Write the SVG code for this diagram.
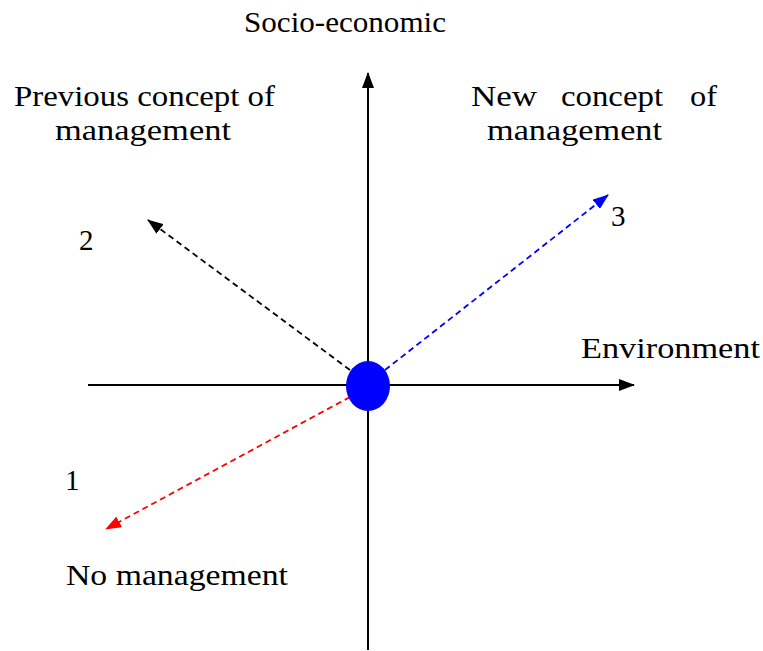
<svg xmlns="http://www.w3.org/2000/svg" width="763" height="651" viewBox="0 0 763 651">
<style>
text{font-family:"Liberation Serif","DejaVu Serif",serif;font-size:29px;fill:#000}
.ax{stroke:#000;stroke-width:2;fill:none}
.d{stroke-width:1.8;stroke-dasharray:6,4;fill:none}
</style>
<defs>
<marker id="ak" markerWidth="16" markerHeight="12" refX="15" refY="6" orient="auto" markerUnits="userSpaceOnUse"><path d="M0,0L16,6L0,12z" fill="#000"/></marker>
<marker id="ab" markerWidth="16" markerHeight="12" refX="15" refY="6" orient="auto" markerUnits="userSpaceOnUse"><path d="M0,0L16,6L0,12z" fill="#0000ff"/></marker>
<marker id="ar" markerWidth="16" markerHeight="12" refX="15" refY="6" orient="auto" markerUnits="userSpaceOnUse"><path d="M0,0L16,6L0,12z" fill="#ff0000"/></marker>
</defs>
<g id="connectors">
<line class="ax" x1="368" y1="650" x2="368" y2="73" marker-end="url(#ak)"/>
<line class="ax" x1="88" y1="385" x2="634" y2="385" marker-end="url(#ak)"/>
<line class="d" stroke="#000" x1="350" y1="370" x2="148" y2="220" marker-end="url(#ak)"/>
<line class="d" stroke="#0000ff" x1="385" y1="370" x2="608" y2="195" marker-end="url(#ab)"/>
<line class="d" stroke="#ff0000" x1="350" y1="397" x2="106" y2="529" marker-end="url(#ar)"/>
</g>
<g id="origin"><ellipse cx="368" cy="386" rx="22" ry="25" fill="#0000ff"/></g>
<g id="socio"><text x="244" y="32" textLength="202" lengthAdjust="spacingAndGlyphs">Socio-economic</text></g>
<g id="previous"><text x="14" y="106" textLength="261" lengthAdjust="spacingAndGlyphs">Previous concept of</text><text x="55" y="140" textLength="176" lengthAdjust="spacingAndGlyphs">management</text></g>
<g id="new"><text x="471" y="106" textLength="66" lengthAdjust="spacingAndGlyphs">New</text><text x="561" y="106" textLength="102" lengthAdjust="spacingAndGlyphs">concept</text><text x="690" y="106" textLength="27" lengthAdjust="spacingAndGlyphs">of</text><text x="487" y="140" textLength="175" lengthAdjust="spacingAndGlyphs">management</text></g>
<g id="env"><text x="581" y="358" textLength="179" lengthAdjust="spacingAndGlyphs">Environment</text></g>
<g id="n2"><text x="79" y="250">2</text></g>
<g id="n3"><text x="611" y="226">3</text></g>
<g id="n1"><text x="65" y="490">1</text></g>
<g id="nomgmt"><text x="66" y="585" textLength="222" lengthAdjust="spacingAndGlyphs">No management</text></g>
</svg>
